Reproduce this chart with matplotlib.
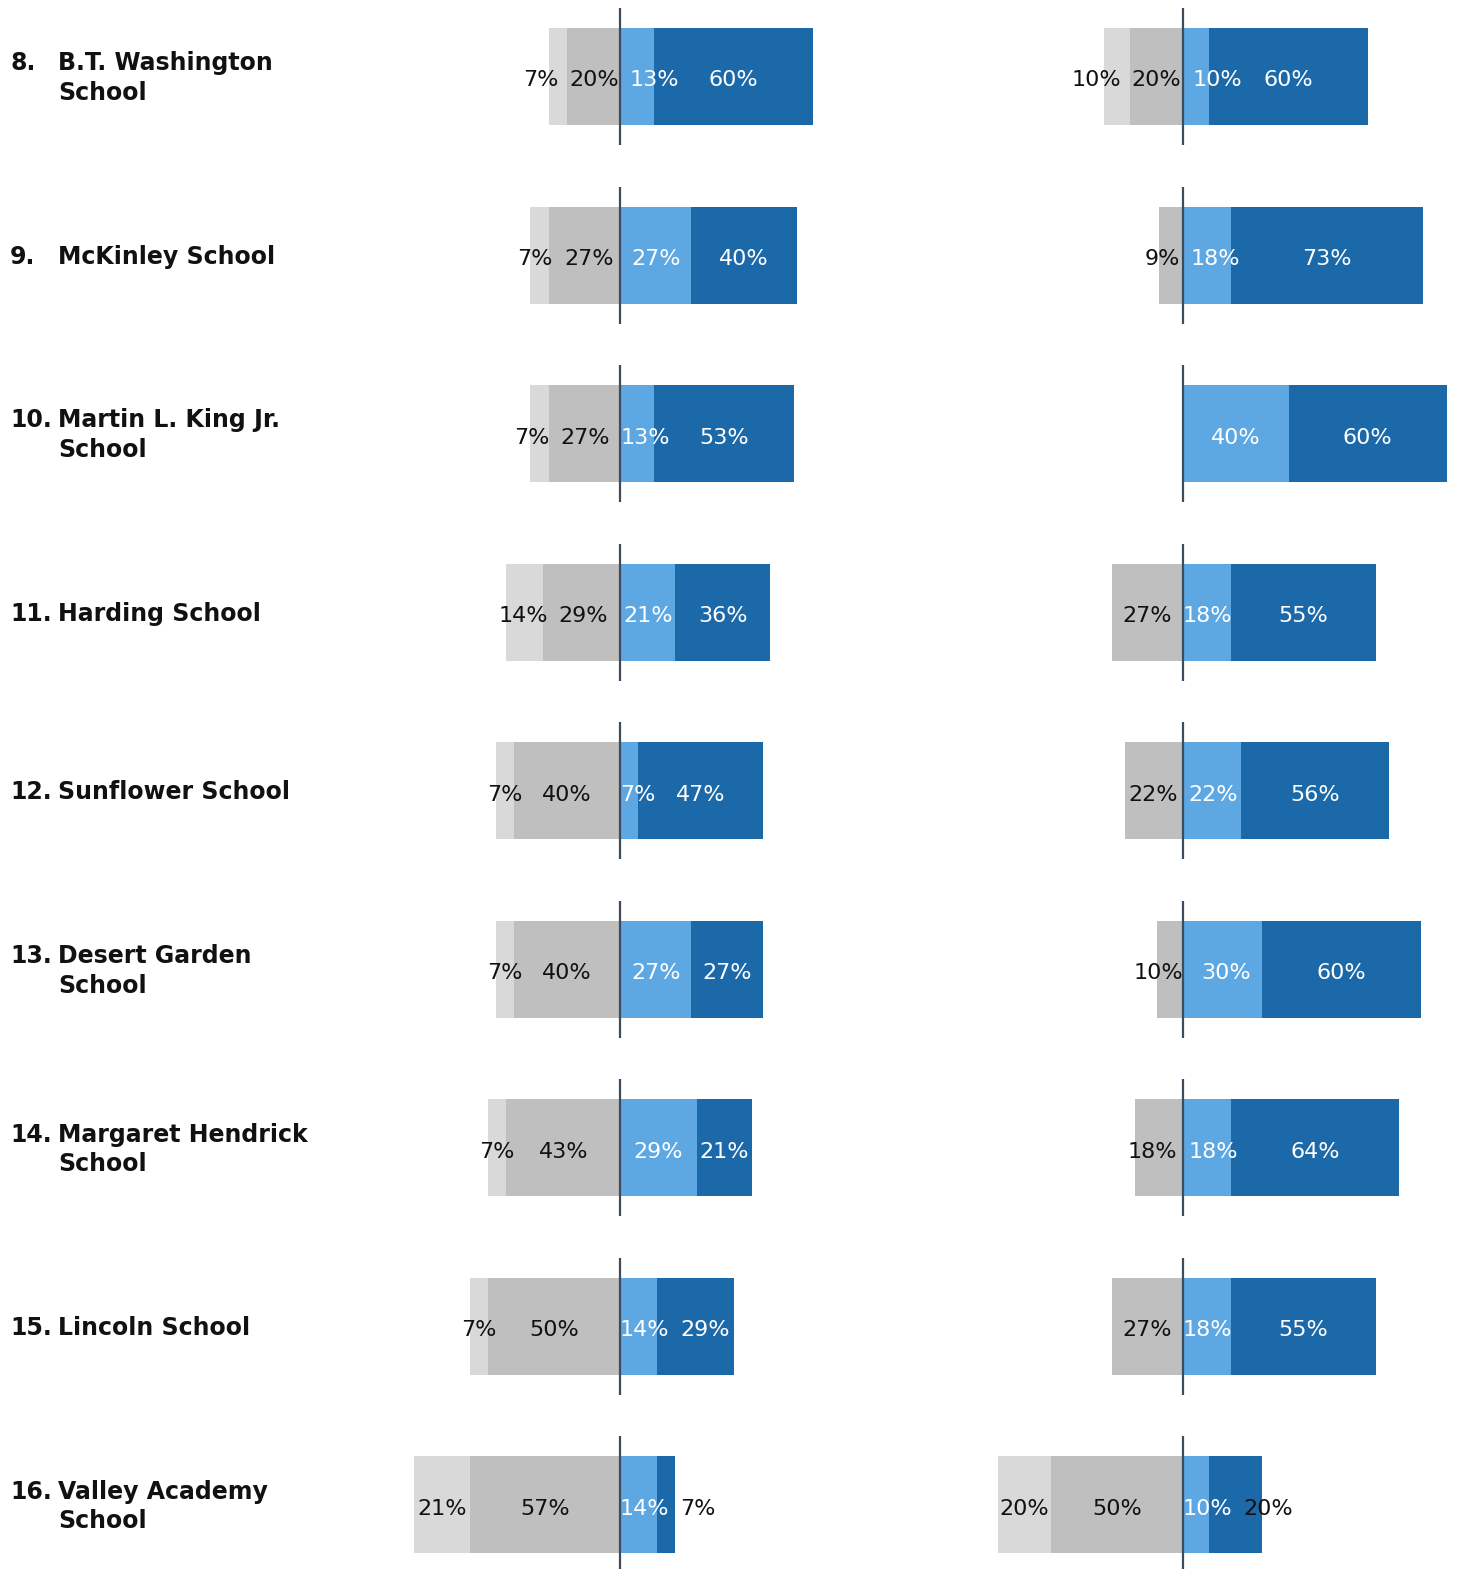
import textwrap
import numpy as np
import matplotlib
matplotlib.use("Agg")
import matplotlib.pyplot as plt
import matplotlib.transforms as mtransforms

# ---------------- data ----------------
numbers = ["8.", "9.", "10.", "11.", "12.", "13.", "14.", "15.", "16."]
schools = ["B.T. Washington School", "McKinley School", "Martin L. King Jr. School",
           "Harding School", "Sunflower School", "Desert Garden School",
           "Margaret Hendrick School", "Lincoln School", "Valley Academy School"]

left_strongly_disagree = [7, 7, 7, 14, 7, 7, 7, 7, 21]
left_disagree = [20, 27, 27, 29, 40, 40, 43, 50, 57]
left_agree = [13, 27, 13, 21, 7, 27, 29, 14, 14]
left_strongly_agree = [60, 40, 53, 36, 47, 27, 21, 29, 7]

right_strongly_disagree = [10, 0, 0, 0, 0, 0, 0, 0, 20]
right_disagree = [20, 9, 0, 27, 22, 10, 18, 27, 50]
right_agree = [10, 18, 40, 18, 22, 30, 18, 18, 10]
right_strongly_agree = [60, 73, 60, 55, 56, 60, 64, 55, 20]

# ---------------- style ----------------
C_SD, C_D, C_A, C_SA = "#d9d9d9", "#bfbfbf", "#5da7e2", "#1c69aa"
TXT_DARK, TXT_LIGHT = "#111111", "#ffffff"
LINE_C = "#3d4b5c"
LABEL_FONT = "DejaVu Sans"

W, H = 1457, 1569
PX = 2.64                 # pixels per percent
ROW = 178.56              # pixels per row
TOP = 76.5                # first row centre, pixels from top
fig = plt.figure(figsize=(W / 100, H / 100), dpi=100)
fig.patch.set_facecolor("white")

y_top = -TOP / ROW
y_bot = (H - TOP) / ROW


def make_ax(center_px, xmin, xmax):
    left = center_px + xmin * PX
    width = (xmax - xmin) * PX
    ax = fig.add_axes([left / W, 0, width / W, 1])
    ax.set_xlim(xmin, xmax)
    ax.set_ylim(y_bot, y_top)
    ax.axis("off")
    return ax


axL = make_ax(620, -110, 110)
axR = make_ax(1183, -100, 103.5)

renderer = fig.canvas.get_renderer()
ys = np.arange(len(schools))
BAR_H = 97 / ROW
LINE_HALF = 68.5 / ROW
GAP_PX = 11


def draw_panel(ax, sd, d, a, sa):
    sd, d, a, sa = map(np.asarray, (sd, d, a, sa))
    ax.barh(ys, sd, left=-(sd + d), height=BAR_H, color=C_SD, zorder=1)
    ax.barh(ys, d, left=-d, height=BAR_H, color=C_D, zorder=1)
    ax.barh(ys, a, left=0, height=BAR_H, color=C_A, zorder=1)
    ax.barh(ys, sa, left=a, height=BAR_H, color=C_SA, zorder=1)
    ax.vlines(np.zeros(len(ys)), ys - LINE_HALF, ys + LINE_HALF,
              color=LINE_C, lw=1.6, zorder=3)

    ppu = ax.transData.transform((1, 0))[0] - ax.transData.transform((0, 0))[0]
    gap = GAP_PX / ppu
    for i, y in enumerate(ys):
        segs = [(-(sd[i] + d[i]), -d[i], sd[i], TXT_DARK, -1),
                (-d[i], 0, d[i], TXT_DARK, -1),
                (0, a[i], a[i], TXT_LIGHT, 1),
                (a[i], a[i] + sa[i], sa[i], TXT_LIGHT, 1)]
        texts, xs, ws, sides, cols = [], [], [], [], []
        for x0, x1, v, col, side in segs:
            if v <= 0:
                continue
            c = (x0 + x1) / 2
            t = ax.text(c, y + 10 / ROW, f"{v}%", ha="center", va="baseline",
                        fontsize=16, family=LABEL_FONT, color=col, zorder=4)
            w = t.get_window_extent(renderer).width / ppu
            texts.append(t); xs.append(c); ws.append(w); sides.append(side); cols.append(col)
        xs = np.array(xs, float)
        for _ in range(400):
            for k in range(len(xs) - 1):
                ov = (xs[k] + ws[k] / 2 + gap) - (xs[k + 1] - ws[k + 1] / 2)
                if ov > 1e-6:
                    xs[k] -= ov / 2
                    xs[k + 1] += ov / 2
            for k in range(len(xs)):
                if sides[k] < 0:
                    xs[k] = min(xs[k], -ws[k] / 2)
                else:
                    xs[k] = max(xs[k], ws[k] / 2)
        lo, hi = -(sd[i] + d[i]), a[i] + sa[i]
        for t, x, col in zip(texts, xs, cols):
            t.set_x(x)
            if x < lo or x > hi:
                t.set_color(TXT_DARK)


draw_panel(axL, left_strongly_disagree, left_disagree, left_agree, left_strongly_agree)
draw_panel(axR, right_strongly_disagree, right_disagree, right_agree, right_strongly_agree)

# ---------------- row labels ----------------
trans = mtransforms.blended_transform_factory(fig.transFigure, axL.transData)
for y, num, name in zip(ys, numbers, schools):
    wrapped = textwrap.fill(name, width=18)
    nlines = wrapped.count("\n") + 1
    yy = y + 1.5 / ROW
    fig.text(10 / W, yy, num + "\n " * (nlines - 1), transform=trans, ha="left",
             va="center", fontsize=17, fontweight="bold", family="DejaVu Sans",
             color="#111111", linespacing=1.3)
    fig.text(58 / W, yy, wrapped, transform=trans, ha="left", va="center",
             fontsize=17, fontweight="bold", family="DejaVu Sans",
             color="#111111", linespacing=1.3)

fig.savefig("out.png", dpi=100, facecolor="white")
